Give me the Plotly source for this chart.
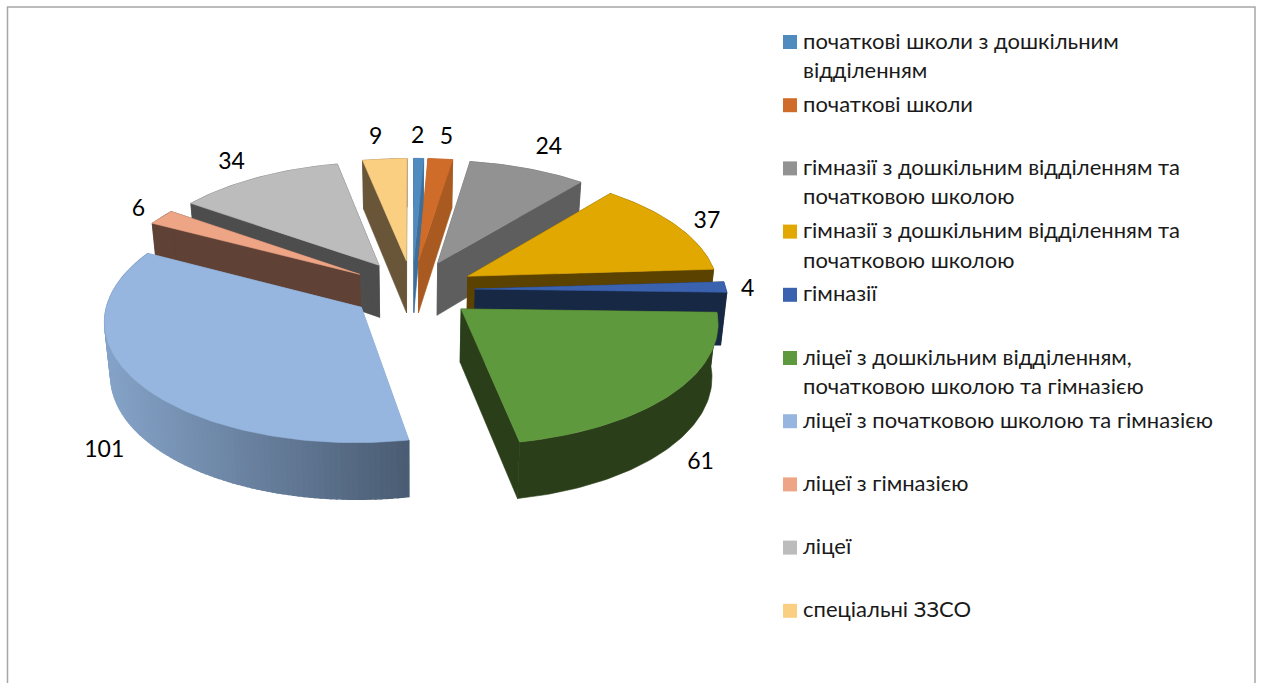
import math
import plotly.graph_objects as go

# ---------- data ----------
CATEGORIES = [
    "початкові школи з дошкільним\nвідділенням",
    "початкові школи",
    "гімназії з дошкільним відділенням та\nпочатковою школою",
    "гімназії з дошкільним відділенням та\nпочатковою школою",
    "гімназії",
    "ліцеї з дошкільним відділенням,\nпочатковою школою та гімназією",
    "ліцеї з початковою школою та гімназією",
    "ліцеї з гімназією",
    "ліцеї",
    "спеціальні ЗЗСО",
]
VALUES = [2, 5, 24, 37, 4, 61, 101, 6, 34, 9]

# ---------- styles ----------
TOP_COLORS = ["#4F8BBF", "#D06C2A", "#929292", "#E0A800", "#3A62AE",
              "#5F993D", "#96B6DF", "#EDA586", "#BCBCBC", "#FBCF81"]
SIDE_COLORS = ["#3F6E98", "#A85A20", "#5E5E5E", "#5C4200", "#172845",
               "#2A3E1A", "#85A3C8", "#604135", "#4D4D4D", "#695537"]
SIDE_DARK = {6: "#4B5D74"}
DRAW_ORDER = [9, 0, 1, 2, 8, 3, 7, 4, 6, 5]
LABEL_NUDGE = [(-1, -21), (6, -21), (21, -20), (30, -4), (22, 3),
               (28, 70), (-36, 67), (-23, -7), (-26, -14), (-9, -21)]

W, H = 1261, 683
CX, CY, A, B, P_K = 412.5, 289.5, 251, 118, 0.1
EXPLODE, DEPTH0, DEPTH1, BOTTOM_SHRINK = 0.25, 52.8, 3.3, 0.98
FONT = "Lato"
LEGEND_X, LEGEND_Y0, LEGEND_STEP, LINE_STEP, TEXT_DY = 801, 42, 63.2, 29.5, -2


def project(u, v, bottom=False):
    s = 1 / (1 - P_K * v)
    x = CX + A * u * s
    y = CY + B * v * s
    if bottom:
        x = CX + (x - CX) * BOTTOM_SHRINK
        y += DEPTH0 + DEPTH1 * v
    return x, y


def hex_rgb(c):
    return tuple(int(c[i:i + 2], 16) for i in (1, 3, 5))


def mix(c1, c2, t):
    a, b = hex_rgb(c1), hex_rgb(c2)
    return "rgb(%d,%d,%d)" % tuple(round(a[i] + (b[i] - a[i]) * t) for i in range(3))


total = sum(VALUES)
starts, ends, cum = [], [], 0
for val in VALUES:
    starts.append(cum / total * 2 * math.pi)
    cum += val
    ends.append(cum / total * 2 * math.pi)

fig = go.Figure()


def poly(pts, color, lw=0.6):
    xs = [p[0] for p in pts] + [pts[0][0]]
    ys = [p[1] for p in pts] + [pts[0][1]]
    fig.add_trace(go.Scatter(x=xs, y=ys, mode="lines", fill="toself", fillcolor=color,
                             line=dict(color=color, width=lw), hoverinfo="skip",
                             showlegend=False))


def plane(i, theta, r=1.0):
    m = (starts[i] + ends[i]) / 2
    return (EXPLODE * math.sin(m) + r * math.sin(theta),
            -(EXPLODE * math.cos(m) + r * math.cos(theta)))


for i in DRAW_ORDER:
    t0, t1 = starts[i], ends[i]
    n = max(4, int((t1 - t0) / 0.02))
    thetas = [t0 + (t1 - t0) * k / n for k in range(n + 1)]
    apex = plane(i, t0, 0.0)
    arc = [plane(i, t) for t in thetas]
    side = SIDE_COLORS[i]
    # radial walls
    for end in (arc[0], arc[-1]):
        poly([project(*apex), project(*end), project(*end, bottom=True),
              project(*apex, bottom=True)], side)
    # outer wall
    if i in SIDE_DARK:
        x_left = project(*plane(i, 1.5 * math.pi))[0]
        x_right = project(*arc[0])[0]
        # drawn from the left end so each strip's seam is covered by the next
        for k in range(n - 1, -1, -1):
            xm = project(*arc[k])[0]
            t = min(1, max(0, (xm - x_left) / (x_right - x_left)))
            poly([project(*arc[k]), project(*arc[k + 1]),
                  project(*arc[k + 1], bottom=True), project(*arc[k], bottom=True)],
                 mix(side, SIDE_DARK[i], t), lw=1.5)
    else:
        poly([project(*p) for p in arc] +
             [project(*p, bottom=True) for p in reversed(arc)], side)
    # top face
    poly([project(*apex)] + [project(*p) for p in arc], TOP_COLORS[i])

# data labels, anchored at each slice's outer-arc midpoint
lx, ly = [], []
for i in range(len(VALUES)):
    m = (starts[i] + ends[i]) / 2
    x, y = project(*plane(i, m))
    lx.append(x + LABEL_NUDGE[i][0])
    ly.append(y + LABEL_NUDGE[i][1])
fig.add_trace(go.Scatter(x=lx, y=ly, mode="text", text=[str(v) for v in VALUES],
                         textposition="middle center",
                         textfont=dict(family=FONT, size=23, color="#000000"),
                         hoverinfo="skip", showlegend=False))

# legend
sq_y = [LEGEND_Y0 + LEGEND_STEP * i for i in range(len(CATEGORIES))]
fig.add_trace(go.Scatter(x=[790] * len(sq_y), y=sq_y, mode="markers",
                         marker=dict(symbol="square", size=14, color=TOP_COLORS,
                                     line=dict(width=0)),
                         hoverinfo="skip", showlegend=False))
annotations = []
for i, cat in enumerate(CATEGORIES):
    for j, line in enumerate(cat.split("\n")):
        annotations.append(dict(x=LEGEND_X, y=sq_y[i] + j * LINE_STEP + TEXT_DY, text=line,
                                xref="x", yref="y", xanchor="left", yanchor="middle",
                                showarrow=False,
                                font=dict(family=FONT, size=22, color="#1a1a1a")))

fig.update_layout(
    width=W, height=H, autosize=False,
    margin=dict(l=0, r=0, t=0, b=0),
    paper_bgcolor="white", plot_bgcolor="white",
    xaxis=dict(range=[0, W], visible=False, fixedrange=True),
    yaxis=dict(range=[H, 0], visible=False, fixedrange=True),
    annotations=annotations,
    shapes=[dict(type="path", path=f"M 7.5 {H} L 7.5 7 L 1255 7 L 1255 {H}",
                 xref="x", yref="y", line=dict(color="#A6A6A6", width=1.5))],
)
fig.write_html("out.html", config={"displayModeBar": False},
               post_script="document.body.style.margin='0';document.body.style.overflow='hidden';")
